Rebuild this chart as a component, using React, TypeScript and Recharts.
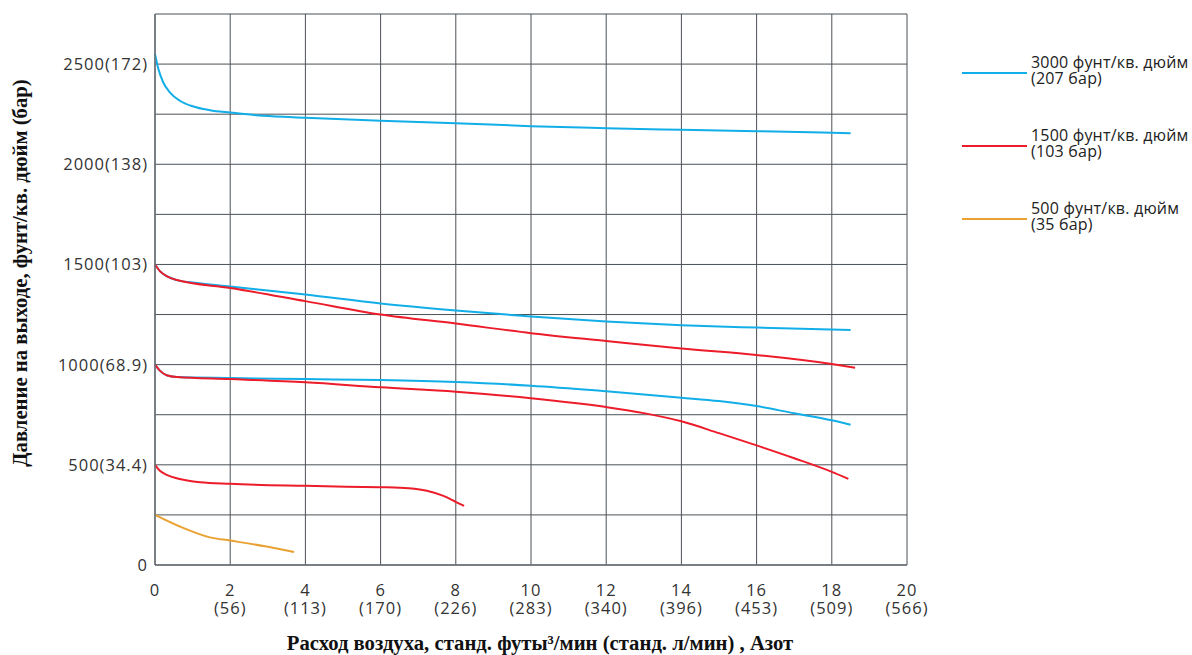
import { LineChart, Line, XAxis, YAxis, CartesianGrid, Label } from 'recharts';

// расход, станд. футы³/мин -> давление, фунт/кв. дюйм
const flowTicks = [0, 2, 4, 6, 8, 10, 12, 14, 16, 18, 20];
const flowMetric = ['', '(56)', '(113)', '(170)', '(226)', '(283)', '(340)', '(396)', '(453)', '(509)', '(566)'];
const pressureTicks = [0, 250, 500, 750, 1000, 1250, 1500, 1750, 2000, 2250, 2500, 2750];
const pressureLabels: Record<number, string> = {
  0: '0',
  500: '500(34.4)',
  1000: '1000(68.9)',
  1500: '1500(103)',
  2000: '2000(138)',
  2500: '2500(172)',
};

const blueTop = [
  { x: 0, y: 2550 }, { x: 0.09, y: 2475 }, { x: 0.22, y: 2408 }, { x: 0.4, y: 2358 },
  { x: 0.66, y: 2317 }, { x: 1.02, y: 2288 }, { x: 1.46, y: 2270 }, { x: 2, y: 2258 },
  { x: 2.88, y: 2242 }, { x: 4, y: 2232 }, { x: 6, y: 2217 }, { x: 8, y: 2205 },
  { x: 10, y: 2190 }, { x: 12, y: 2180 }, { x: 14, y: 2172 }, { x: 16, y: 2165 }, { x: 18.5, y: 2155 },
];
const blueMid = [
  { x: 0, y: 1500 }, { x: 0.13, y: 1467 }, { x: 0.31, y: 1442 }, { x: 0.58, y: 1422 },
  { x: 1, y: 1410 }, { x: 2, y: 1390 }, { x: 4, y: 1350 }, { x: 6, y: 1305 }, { x: 8, y: 1270 },
  { x: 10, y: 1240 }, { x: 12, y: 1215 }, { x: 14, y: 1197 }, { x: 16, y: 1185 }, { x: 18.5, y: 1173 },
];
const blueLow = [
  { x: 0, y: 1000 }, { x: 0.13, y: 970 }, { x: 0.31, y: 947 }, { x: 0.58, y: 938 }, { x: 2, y: 933 },
  { x: 4, y: 928 }, { x: 6, y: 923 }, { x: 8, y: 913 }, { x: 10, y: 895 },
  { x: 12, y: 867 }, { x: 14, y: 835 }, { x: 15, y: 818 }, { x: 16, y: 793 },
  { x: 17, y: 757 }, { x: 18, y: 722 }, { x: 18.5, y: 700 },
];
const redTop = [
  { x: 0, y: 1500 }, { x: 0.13, y: 1467 }, { x: 0.31, y: 1442 }, { x: 0.58, y: 1422 }, { x: 2, y: 1383 },
  { x: 4, y: 1317 }, { x: 6, y: 1250 }, { x: 8, y: 1205 }, { x: 10, y: 1157 },
  { x: 12, y: 1118 }, { x: 14, y: 1080 }, { x: 16, y: 1048 }, { x: 18, y: 1003 }, { x: 18.62, y: 985 },
];
const redMid = [
  { x: 0, y: 1000 }, { x: 0.13, y: 970 }, { x: 0.31, y: 947 }, { x: 0.58, y: 938 }, { x: 2, y: 928 },
  { x: 4, y: 912 }, { x: 6, y: 887 }, { x: 8, y: 865 }, { x: 10, y: 832 },
  { x: 12, y: 788 }, { x: 13, y: 758 }, { x: 14, y: 717 }, { x: 15, y: 658 },
  { x: 16, y: 597 }, { x: 17, y: 533 }, { x: 18, y: 465 }, { x: 18.44, y: 430 },
];
const redLow = [
  { x: 0, y: 500 }, { x: 0.13, y: 470 }, { x: 0.31, y: 450 }, { x: 0.6, y: 432 }, { x: 1.2, y: 413 },
  { x: 2, y: 405 }, { x: 4, y: 395 }, { x: 6, y: 388 }, { x: 6.5, y: 386 }, { x: 6.9, y: 381 },
  { x: 7.23, y: 371 }, { x: 7.67, y: 345 }, { x: 8.02, y: 313 }, { x: 8.22, y: 295 },
];
const orangeLow = [
  { x: 0, y: 250 }, { x: 0.66, y: 192 }, { x: 1.46, y: 138 }, { x: 2, y: 122 },
  { x: 2.97, y: 92 }, { x: 3.7, y: 65 },
];

const BLUE = '#12aee8';
const RED = '#ec1c2a';
const ORANGE = '#e9a131';

const series = [
  { key: 'b1', data: blueTop, color: BLUE },
  { key: 'b2', data: blueMid, color: BLUE },
  { key: 'r1', data: redTop, color: RED },
  { key: 'b3', data: blueLow, color: BLUE },
  { key: 'r2', data: redMid, color: RED },
  { key: 'r3', data: redLow, color: RED },
  { key: 'o1', data: orangeLow, color: ORANGE },
];

const legendItems = [
  { color: BLUE, line1: '3000 фунт/кв. дюйм', line2: '(207 бар)' },
  { color: RED, line1: '1500 фунт/кв. дюйм', line2: '(103 бар)' },
  { color: ORANGE, line1: '500 фунт/кв. дюйм', line2: '(35 бар)' },
];

const tickFont = "'Open Sans', sans-serif";
const titleFont = "'Liberation Serif', serif";

const XTick = (props: any) => {
  const { x, y, payload, index } = props;
  return (
    <g>
      <text x={x} y={y + 23} textAnchor="middle" fontFamily={tickFont} fontSize={16.5} letterSpacing={1} fill="#333">
        {payload.value}
      </text>
      <text x={x} y={y + 41} textAnchor="middle" fontFamily={tickFont} fontSize={16.5} letterSpacing={1} fill="#333">
        {flowMetric[index]}
      </text>
    </g>
  );
};

const YTick = (props: any) => {
  const { x, y, payload } = props;
  const label = pressureLabels[payload.value];
  if (!label) return <g />;
  return (
    <text x={x + 1} y={y + 6} textAnchor="end" fontFamily={tickFont} fontSize={16.5} letterSpacing={1} fill="#333">
      {label}
    </text>
  );
};

export default function App() {
  return (
    <div style={{ position: 'absolute', left: 0, top: 0, width: 1192, height: 655, background: '#fff' }}>
      <LineChart width={1192} height={655} margin={{ top: 14, right: 285, bottom: 40, left: 5 }}>
        <CartesianGrid stroke="#4a5157" strokeWidth={1} />
        <XAxis
          type="number"
          dataKey="x"
          domain={[0, 20]}
          ticks={flowTicks}
          height={50}
          tickLine={false}
          axisLine={{ stroke: '#6b7277', strokeWidth: 1.5 }}
          tick={<XTick />}
          interval={0}
        >
          <Label
            content={() => (
              <text x={540} y={650} textAnchor="middle" fontFamily={titleFont} fontWeight="bold" fontSize={20.7} fill="#111">
                Расход воздуха, станд. футы³/мин (станд. л/мин) , Азот
              </text>
            )}
          />
        </XAxis>
        <YAxis
          type="number"
          domain={[0, 2750]}
          ticks={pressureTicks}
          width={150}
          tickLine={false}
          axisLine={{ stroke: '#6b7277', strokeWidth: 1.5 }}
          tick={<YTick />}
          interval={0}
        >
          <Label
            content={() => (
              <text
                x={27}
                y={273}
                transform="rotate(-90 27 273)"
                textAnchor="middle"
                fontFamily={titleFont}
                fontWeight="bold"
                fontSize={20.7}
                fill="#111"
              >
                Давление на выходе, фунт/кв. дюйм (бар)
              </text>
            )}
          />
        </YAxis>
        {series.map((s) => (
          <Line
            key={s.key}
            data={s.data}
            dataKey="y"
            type="monotone"
            stroke={s.color}
            strokeWidth={2}
            dot={false}
            activeDot={false}
            isAnimationActive={false}
          />
        ))}
      </LineChart>
      <div style={{ position: 'absolute', left: 960, top: 54, width: 232 }}>
        {legendItems.map((item) => (
          <div key={item.line1} style={{ position: 'relative', height: 73 }}>
            <svg width={70} height={20} style={{ position: 'absolute', left: 0, top: 9 }}>
              <line x1={2} y1={10} x2={67} y2={10} stroke={item.color} strokeWidth={2} />
            </svg>
            <div
              style={{
                position: 'absolute',
                left: 71,
                top: 0,
                fontFamily: tickFont,
                fontSize: 16,
                letterSpacing: 0.2,
                lineHeight: '16px',
                color: '#222',
                whiteSpace: 'nowrap',
              }}
            >
              <div>{item.line1}</div>
              <div>{item.line2}</div>
            </div>
          </div>
        ))}
      </div>
    </div>
  );
}
